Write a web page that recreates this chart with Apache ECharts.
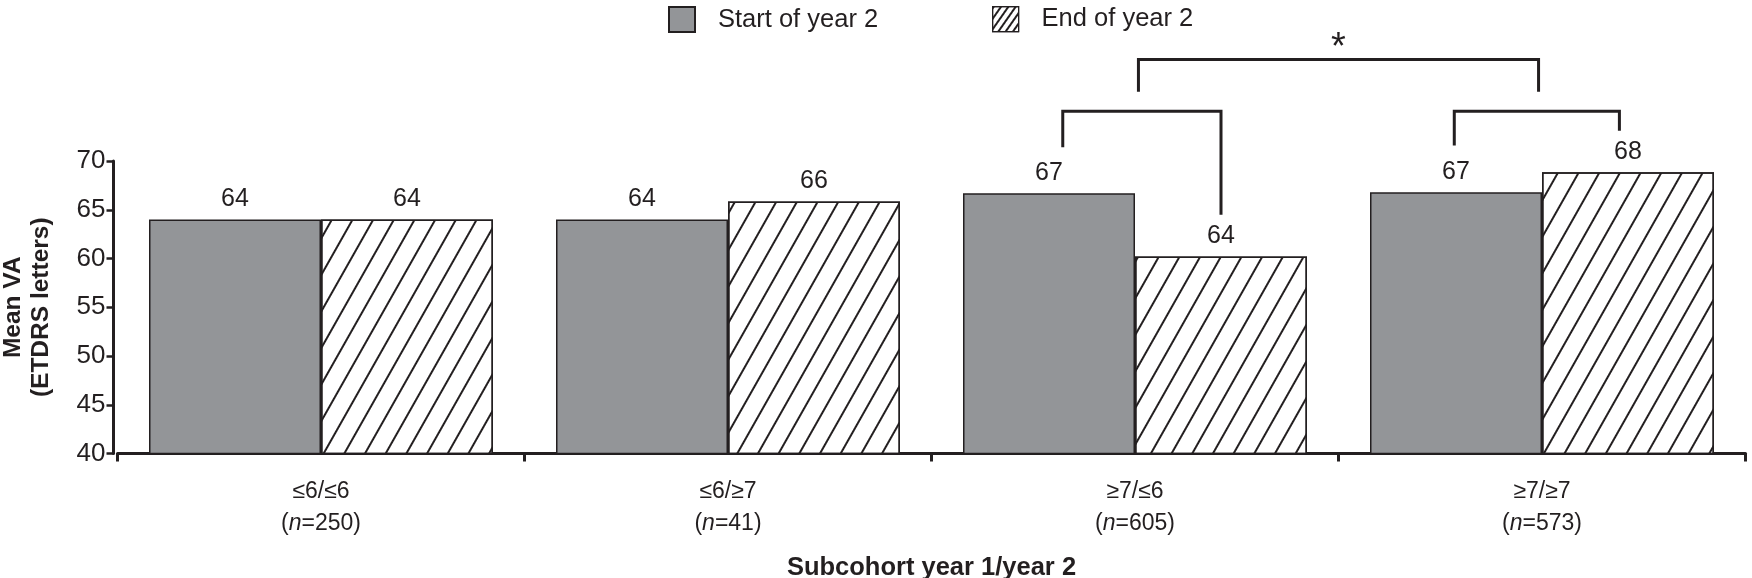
<!DOCTYPE html>
<html><head><meta charset="utf-8">
<script src="https://cdn.jsdelivr.net/npm/echarts@6/dist/echarts.min.js"></script>
<style>html,body{margin:0;padding:0;background:#fff}#c{width:1752px;height:578px}</style>
</head><body><div id="c"></div>
<script>
// ---- data ----
const categories = ['≤6/≤6', '≤6/≥7', '≥7/≤6', '≥7/≥7'];
const nValues = [250, 41, 605, 573];
const startYear2 = [64.0, 64.0, 66.7, 66.8];      // bar heights as drawn
const endYear2 = [64.0, 65.85, 60.2, 68.85];
const startLabels = ['64', '64', '67', '67'];      // printed values
const endLabels = ['64', '66', '64', '68'];
const seriesNames = ['Start of year 2', 'End of year 2'];
const yMin = 40, yMax = 70, yStep = 5;
// significance brackets (category index + offset in half-bar widths)
const bracketCat0 = [2, 2, 3];
const bracketSide0 = [0.04, -0.84, -1.02];
const bracketCat1 = [3, 2, 3];
const bracketSide1 = [-0.04, 1.0, 0.9];
const bracketTop = [80.4, 75.1, 75.1];
const bracketLeftEnd = [77.1, 71.4, 71.6];
const bracketRightEnd = [77.1, 64.5, 73.1];
const starText = ['*', '', ''];
const starY = [81.5, 0, 0];

// ---- style ----
const INK = '#231f20';
const FONT = '"Liberation Sans", Arial, Helvetica, sans-serif';
const BAR_W = 172;
const hatch = {symbol: 'rect', symbolSize: 1, dashArrayX: [1, 0], dashArrayY: [1.4, 15.4], rotation: -60.5 * Math.PI / 180, color: INK};
const hatchLegend = {symbol: 'rect', symbolSize: 1, dashArrayX: [1, 0], dashArrayY: [1.2, 3.6], rotation: -55 * Math.PI / 180, color: INK};

const chart = echarts.init(document.getElementById('c'), null, {renderer: 'canvas'});

const bracketData = bracketTop.map((t, i) => [bracketCat0[i], t]);

chart.setOption({
  animation: false,
  backgroundColor: '#fff',
  textStyle: {fontFamily: FONT, color: INK},
  grid: {left: 117.5, right: 6.5, top: 161, bottom: 124.5, containLabel: false, outerBoundsMode: 'none'},
  legend: [
    {left: 663, top: 1, itemWidth: 26, itemHeight: 25, icon: 'rect', selectedMode: false,
     data: [{name: seriesNames[0]}],
     textStyle: {fontSize: 25.5, color: INK, fontFamily: FONT, padding: [0, 0, 0, 18]}},
    {left: 987, top: 1, itemWidth: 26, itemHeight: 25, icon: 'rect', selectedMode: false,
     data: [{name: seriesNames[1], itemStyle: {decal: hatchLegend, color: '#fff', borderColor: INK, borderWidth: 1.2}}],
     textStyle: {fontSize: 25.5, color: INK, fontFamily: FONT, padding: [0, 0, 0, 18]}}
  ],
  xAxis: {
    type: 'category', data: categories,
    axisLine: {lineStyle: {color: INK, width: 3}},
    axisTick: {show: true, length: 8, lineStyle: {color: INK, width: 3}},
    axisLabel: {
      margin: 22, fontSize: 23, color: INK, fontFamily: FONT, lineHeight: 32,
      formatter: (v, i) => v + '\n({i|n}=' + nValues[i] + ')',
      rich: {i: {fontStyle: 'italic', fontSize: 23, color: INK, fontFamily: FONT, lineHeight: 32}}
    },
    name: 'Subcohort year 1/year 2', nameLocation: 'middle', nameGap: 101,
    nameTextStyle: {fontSize: 25.5, fontWeight: 'bold', color: INK, fontFamily: FONT}
  },
  yAxis: {
    type: 'value', min: yMin, max: yMax, interval: yStep, offset: 4,
    splitLine: {show: false},
    axisLine: {show: true, lineStyle: {color: INK, width: 3}},
    axisTick: {show: true, length: 7, lineStyle: {color: INK, width: 2.5}},
    axisLabel: {margin: 8, fontSize: 26, color: INK, fontFamily: FONT},
    name: 'Mean VA\n(ETDRS letters)', nameLocation: 'middle', nameGap: 58, nameRotate: 90,
    nameTextStyle: {fontSize: 24.5, fontWeight: 'bold', color: INK, fontFamily: FONT, lineHeight: 28}
  },
  series: [
    {
      name: seriesNames[0], type: 'bar', data: startYear2, barWidth: BAR_W, barGap: '0%',
      itemStyle: {color: '#939598', borderColor: INK, borderWidth: 1.5},
      label: {show: true, position: 'top', distance: 8, fontSize: 25, color: INK, fontFamily: FONT,
              formatter: p => startLabels[p.dataIndex]}
    },
    {
      name: seriesNames[1], type: 'bar', data: endYear2, barWidth: BAR_W, barGap: '0%',
      itemStyle: {color: '#ffffff', borderColor: INK, borderWidth: 1.5, decal: hatch},
      label: {show: true, position: 'top', distance: 8, fontSize: 25, color: INK, fontFamily: FONT,
              formatter: p => endLabels[p.dataIndex]}
    },
    {
      name: 'brackets', type: 'custom', clip: false, silent: true, z: 10,
      data: bracketData,
      renderItem: function (params, api) {
        const i = params.dataIndex;
        const xa = api.coord([bracketCat0[i], yMin])[0] + bracketSide0[i] * BAR_W / 2;
        const xb = api.coord([bracketCat1[i], yMin])[0] + bracketSide1[i] * BAR_W / 2;
        const yT = api.coord([bracketCat0[i], bracketTop[i]])[1];
        const yL = api.coord([bracketCat0[i], bracketLeftEnd[i]])[1];
        const yR = api.coord([bracketCat0[i], bracketRightEnd[i]])[1];
        const children = [{
          type: 'polyline',
          shape: {points: [[xa, yL], [xa, yT], [xb, yT], [xb, yR]]},
          style: {stroke: INK, lineWidth: 3, fill: null, lineJoin: 'miter', lineCap: 'butt'}
        }];
        if (starText[i]) {
          children.push({
            type: 'text',
            x: (xa + xb) / 2, y: api.coord([bracketCat0[i], starY[i]])[1],
            style: {text: starText[i], fontSize: 38, fontFamily: FONT, fill: INK, align: 'center', verticalAlign: 'middle'}
          });
        }
        return {type: 'group', children: children};
      }
    }
  ]
});
</script>
</body></html>
